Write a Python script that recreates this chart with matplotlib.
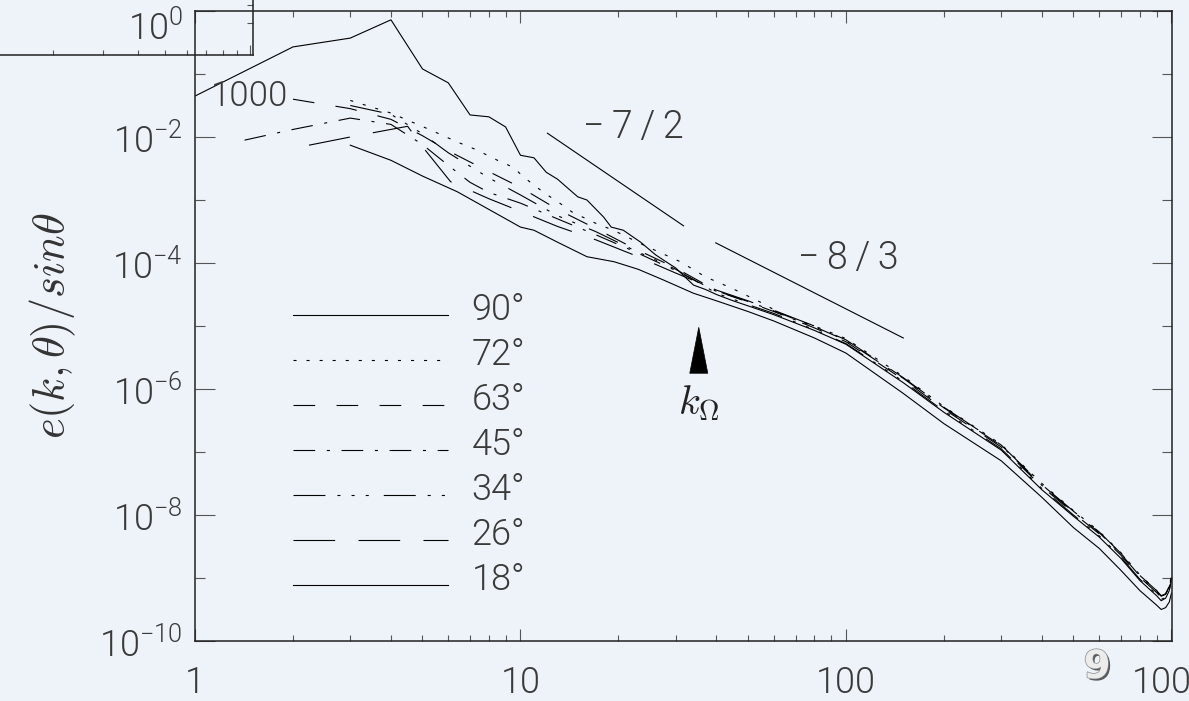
import numpy as np
import matplotlib
matplotlib.use("Agg")
import matplotlib.pyplot as plt
import matplotlib.patheffects as pe
import matplotlib.transforms as mtransforms
from matplotlib.patches import Polygon
from matplotlib.ticker import NullFormatter

BG = "#eef3fa"
TXT = "#3a3a3a"

plt.rcParams["font.family"] = ["Roboto", "DejaVu Sans"]
plt.rcParams["font.weight"] = 300
plt.rcParams["lines.scale_dashes"] = False

# angle-resolved energy spectra, log10 of e(k,theta)/sin(theta)
k_90 = [1, 2, 3, 4, 5, 6, 7, 8, 9, 10, 11, 12, 13, 15, 16, 18, 19, 20.7, 23.4, 26, 28, 30,
        32, 34, 37, 40, 45, 50, 60, 80, 100, 150, 200, 300, 400, 500, 600, 700, 800, 900,
        930, 960, 985, 1000]
log_90 = [-1.35, -0.57, -0.43, -0.14, -0.92, -1.14, -1.65, -1.68, -1.84, -2.29, -2.33, -2.56,
          -2.67, -2.95, -3.0, -3.27, -3.43, -3.48, -3.67, -3.87, -3.98, -4.08, -4.22, -4.35,
          -4.42, -4.5, -4.6, -4.68, -4.82, -5.07, -5.29, -5.9, -6.37, -6.97, -7.6, -8.02,
          -8.35, -8.69, -9.04, -9.28, -9.36, -9.32, -9.2, -9.03]

k_72 = [3, 4, 5.3, 6.4, 7.3, 8.5, 9.5, 10.2, 11.1, 12.1, 13.2, 14.4, 15.8, 17.2, 19.3, 24, 31,
        37, 45, 55, 66, 80, 100, 150, 200, 300, 400, 500, 600, 700, 800, 900, 930, 960, 985,
        1000]
log_72 = [-1.42, -1.62, -1.89, -2.08, -2.2, -2.37, -2.48, -2.63, -2.78, -2.92, -3.05, -3.19,
          -3.29, -3.38, -3.48, -3.72, -3.98, -4.22, -4.41, -4.63, -4.86, -5.0, -5.2, -5.8,
          -6.28, -6.88, -7.5, -7.93, -8.26, -8.6, -8.95, -9.2, -9.28, -9.25, -9.13, -8.96]

k_63 = [2, 3, 4, 5, 6, 8, 10, 13, 17, 22, 30, 40, 50, 60, 80, 100, 150, 200, 300, 400, 500,
        600, 700, 800, 900, 930, 960, 985, 1000]
log_63 = [-1.40, -1.55, -1.72, -1.98, -2.22, -2.55, -2.8, -3.15, -3.45, -3.75, -4.08, -4.44,
          -4.62, -4.77, -5.03, -5.25, -5.85, -6.32, -6.92, -7.55, -7.97, -8.3, -8.64, -8.99,
          -9.23, -9.31, -9.28, -9.16, -8.99]

k_45 = [1.42, 2, 3, 4, 5, 6, 7, 8, 10, 13, 17, 22, 30, 40, 50, 60, 80, 100, 150, 200, 300,
        400, 500, 600, 700, 800, 900, 930, 960, 985, 1000]
log_45 = [-2.05, -1.88, -1.70, -1.80, -2.12, -2.45, -2.72, -2.88, -3.05, -3.3, -3.55, -3.8,
          -4.12, -4.45, -4.61, -4.76, -5.01, -5.23, -5.83, -6.3, -6.9, -7.53, -7.95, -8.28,
          -8.62, -8.97, -9.21, -9.29, -9.26, -9.14, -8.97]

k_34 = [3, 4, 5, 6, 8, 10, 13, 17, 22, 30, 40, 50, 60, 80, 100, 150, 200, 300, 400, 500, 600,
        700, 800, 900, 930, 960, 985, 1000]
log_34 = [-1.5, -1.64, -1.95, -2.25, -2.65, -2.92, -3.25, -3.5, -3.78, -4.1, -4.48, -4.66,
          -4.8, -5.06, -5.28, -5.88, -6.35, -6.95, -7.58, -8.0, -8.33, -8.67, -9.02, -9.26,
          -9.34, -9.31, -9.19, -9.02]

k_26 = [2.24, 3, 4.5, 5.1, 6.1, 8, 10, 13, 17, 22, 30, 40, 50, 60, 80, 100, 150, 200, 300,
        400, 500, 600, 700, 800, 900, 930, 960, 985, 1000]
log_26 = [-2.13, -2.0, -1.83, -2.21, -2.71, -2.98, -3.18, -3.42, -3.63, -3.86, -4.16, -4.43,
          -4.6, -4.75, -5.0, -5.22, -5.82, -6.29, -6.89, -7.52, -7.94, -8.27, -8.61, -8.96,
          -9.2, -9.28, -9.25, -9.13, -8.96]

k_18 = [3, 4, 5, 6.4, 8, 10, 11, 13, 16, 19.4, 23, 27.5, 34, 40, 50, 60, 80, 100, 150, 200,
        300, 400, 500, 600, 700, 800, 900, 930, 960, 985, 1000]
log_18 = [-2.13, -2.37, -2.62, -2.87, -3.15, -3.43, -3.48, -3.67, -3.9, -3.98, -4.1, -4.27,
          -4.48, -4.6, -4.77, -4.92, -5.19, -5.43, -6.07, -6.55, -7.14, -7.72, -8.2, -8.53,
          -8.88, -9.2, -9.43, -9.5, -9.47, -9.38, -9.24]

# power-law guide lines (end points)
slope72_k = [12.1, 31.7]
slope72_log = [-1.94, -3.41]
slope83_k = [39.8, 150.0]
slope83_log = [-3.68, -5.19]

k_omega = 35.3

series = [
    ("90°", k_90, log_90, "-"),
    ("72°", k_72, log_72, (0, (2.2, 7.2))),
    ("63°", k_63, log_63, (0, (15.6, 15.4))),
    ("45°", k_45, log_45, (0, (15.6, 8.4, 2.2, 8.4))),
    ("34°", k_34, log_34, (0, (23, 8.6, 2.2, 8, 2.2, 8, 2.2, 10.8))),
    ("26°", k_26, log_26, (0, (30, 16.8))),
    ("18°", k_18, log_18, "-"),
]

fig = plt.figure(figsize=(11.89, 7.01), dpi=100, facecolor=BG)
ax = fig.add_axes([195 / 1189, 60 / 701, 977 / 1189, 630 / 701], facecolor=BG)
ax.set_xscale("log")
ax.set_yscale("log")

handles = []
for label, k, loge, ls in series:
    (ln,) = ax.plot(k, 10.0 ** np.asarray(loge), color="black", lw=0.8, ls=ls, label=label)
    handles.append(ln)

ax.plot(slope72_k, 10.0 ** np.asarray(slope72_log), color="black", lw=0.8)
ax.plot(slope83_k, 10.0 ** np.asarray(slope83_log), color="black", lw=0.8)
ax.text(22.2, 10 ** -1.84, "\u2212\u20097\u2009/\u20092", fontsize=27, color=TXT,
        ha="center", va="center")
ax.text(101.8, 10 ** -3.92, "\u2212\u20098\u2009/\u20093", fontsize=27, color=TXT,
        ha="center", va="center")

# k_Omega marker
half = 10 ** (9 / 325)
tri = Polygon([(k_omega / half, 10 ** -5.75), (k_omega * half, 10 ** -5.75),
               (k_omega, 10 ** -5.02)], closed=True, fc="black", ec="black", lw=0.5)
ax.add_patch(tri)
ax.text(k_omega, 10 ** -6.22, r"$k_\Omega$", fontsize=29, ha="center", va="center",
        color="#222222", math_fontfamily="cm")

ax.set_xlim(1, 1004)
ax.set_ylim(1e-10, 1)

ax.set_xticks([1, 10, 100, 1000], ["1", "10", "100", "1000"])
ax.set_yticks([10.0 ** -p for p in range(0, 11, 2)])
ax.set_yticks([10.0 ** -p for p in range(1, 11, 2)], minor=True)
ax.yaxis.set_minor_formatter(NullFormatter())
ax.xaxis.set_minor_formatter(NullFormatter())

ax.tick_params(which="both", direction="in", top=True, right=True, color="#555555",
               width=0.8, labelcolor=TXT, labelsize=26)
ax.tick_params(axis="x", which="major", length=8.6, pad=17)
ax.tick_params(axis="x", which="minor", length=4.3)
ax.tick_params(axis="y", which="major", length=14.4, pad=9)
ax.tick_params(axis="y", which="minor", length=7.2)
for sp in ax.spines.values():
    sp.set_color("#222222")
    sp.set_linewidth(1.1)

# the top label sits lower so it stays inside the canvas
fig.canvas.draw()
top_lbl = ax.get_yticklabels()[0]
top_lbl.set_transform(top_lbl.get_transform()
                      + mtransforms.ScaledTranslation(0, -13 / 100, fig.dpi_scale_trans))

ax.set_ylabel(r"$e(k,\theta)/sin\theta$", fontsize=32, color="#333333", math_fontfamily="cm")
ax.yaxis.set_label_coords(-0.12, 0.5)

leg = ax.legend(handles=handles, loc="upper left", bbox_to_anchor=(0.1003, 0.542),
                frameon=False, fontsize=26, handlelength=4.29, handletextpad=0.65,
                labelspacing=0.25, borderpad=0, borderaxespad=0, labelcolor=TXT)
# labels ride a little above their sample lines
lift = mtransforms.ScaledTranslation(0, 8 / 100, fig.dpi_scale_trans)
for t in leg.get_texts():
    t.set_transform(t.get_transform() + lift)

# stray corner of a second frame at the top left
gx = fig.add_axes([-50 / 1189, (701 - 55) / 701, 303 / 1189, 100 / 701], facecolor="none")
gx.set_xscale("log")
gx.set_xlim(0.863, 10.25)
gx.set_ylim(0, 100)
gx.spines["left"].set_visible(False)
gx.spines["top"].set_visible(False)
for sp in ("bottom", "right"):
    gx.spines[sp].set_color("#222222")
    gx.spines[sp].set_linewidth(1.1)
gx.set_xticks([10], ["1000"])
gx.xaxis.set_minor_formatter(NullFormatter())
gx.set_yticks([32, 50])
gx.yaxis.tick_right()
gx.tick_params(which="both", direction="in", color="#555555", width=0.8,
               labelcolor=TXT, labelsize=25, labelright=False)
gx.tick_params(axis="x", which="major", length=7.2, pad=18)
gx.tick_params(axis="x", which="minor", length=3.4)
gx.tick_params(axis="y", length=4.5)

fig.text(1097 / 1189, (701 - 667) / 701, "9", fontsize=28, fontweight="bold",
         family="DejaVu Sans", color="#ececec", ha="center", va="center",
         path_effects=[pe.withSimplePatchShadow(offset=(1.5, -1.5), shadow_rgbFace="#333333",
                                                alpha=0.8),
                       pe.withStroke(linewidth=1, foreground="#8a8a8a")])

fig.savefig("out.png", dpi=100, facecolor=BG)
